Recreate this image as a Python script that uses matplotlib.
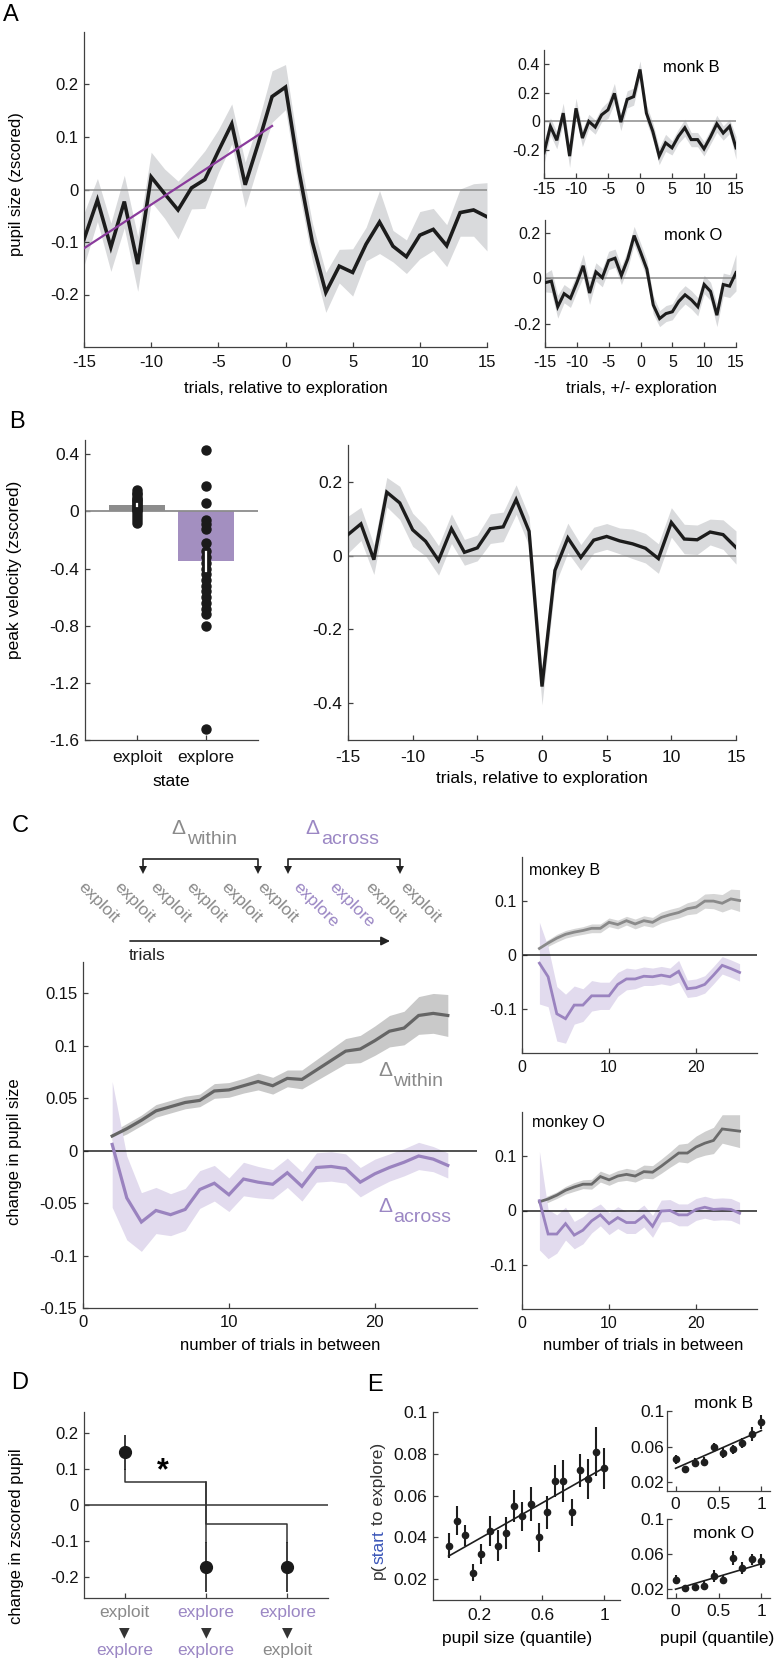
import numpy as np
import matplotlib
matplotlib.use('Agg')
import matplotlib.pyplot as plt
from matplotlib.transforms import blended_transform_factory

W, H, DPI = 778, 1661, 100
plt.rcParams['font.family'] = ['Liberation Sans', 'DejaVu Sans']

# ---------------- data ----------------
trial_offsets = [-15, -14, -13, -12, -11, -10, -9, -8, -7, -6, -5, -4, -3, -2, -1,
                 0, 1, 2, 3, 4, 5, 6, 7, 8, 9, 10, 11, 12, 13, 14, 15]
pupil_mean = [-0.095, -0.02, -0.11, -0.023, -0.142, 0.024, -0.008, -0.039, 0.003, 0.019,
              0.073, 0.125, 0.009, 0.09, 0.177, 0.195, 0.035, -0.10, -0.196, -0.146,
              -0.158, -0.104, -0.062, -0.108, -0.128, -0.087, -0.076, -0.107, -0.044, -0.039, -0.052]
pupil_err = [0.05, 0.041, 0.046, 0.05, 0.052, 0.047, 0.047, 0.055, 0.04, 0.055, 0.041, 0.038,
             0.043, 0.041, 0.049, 0.043, 0.038, 0.036, 0.038, 0.032, 0.045, 0.032, 0.06, 0.03,
             0.032, 0.045, 0.04, 0.04, 0.045, 0.05, 0.065]
fit_x = [-15, -1]
fit_y = [-0.112, 0.121]

monkB_pupil = [-0.223, -0.037, -0.135, 0.056, -0.246, 0.09, -0.119, -0.002, -0.042, 0.044, 0.079,
               0.195, -0.007, 0.153, 0.172, 0.363, 0.056, -0.072, -0.246, -0.153, -0.188, -0.107,
               -0.047, -0.13, -0.13, -0.195, -0.112, -0.019, -0.084, -0.037, -0.188]
monkB_pupil_err = [0.08, 0.06, 0.06, 0.07, 0.08, 0.07, 0.06, 0.05, 0.05, 0.05, 0.06, 0.07, 0.06,
                   0.06, 0.06, 0.06, 0.06, 0.06, 0.06, 0.06, 0.05, 0.05, 0.06, 0.05, 0.05, 0.05,
                   0.05, 0.06, 0.05, 0.05, 0.08]
monkO_pupil = [-0.019, -0.012, -0.124, -0.067, -0.087, -0.019, 0.055, -0.064, 0.028, 0.003, 0.078,
               0.088, 0.013, 0.085, 0.187, 0.115, 0.04, -0.116, -0.176, -0.154, -0.146, -0.101,
               -0.072, -0.094, -0.124, -0.027, -0.057, -0.161, -0.027, -0.034, 0.025]
monkO_pupil_err = [0.04, 0.05, 0.05, 0.04, 0.04, 0.04, 0.05, 0.05, 0.04, 0.04, 0.04, 0.04, 0.04,
                   0.04, 0.04, 0.04, 0.04, 0.04, 0.035, 0.035, 0.035, 0.04, 0.04, 0.04, 0.04, 0.04,
                   0.04, 0.05, 0.05, 0.05, 0.08]

states = ['exploit', 'explore']
bar_means = [0.045, -0.35]
bar_sem = [0.01, 0.065]
exploit_dots = [0.15, 0.13, 0.12, 0.10, 0.09, 0.08, 0.07, 0.06, 0.05, 0.04, 0.03, 0.02,
                0.01, 0.0, -0.02, -0.04, -0.06, -0.08]
explore_dots = [0.43, 0.18, 0.06, -0.06, -0.09, -0.12, -0.22, -0.28, -0.32, -0.36, -0.40,
                -0.44, -0.48, -0.52, -0.56, -0.60, -0.64, -0.68, -0.72, -0.80, -1.52]

velocity_mean = [0.057, 0.086, -0.011, 0.172, 0.143, 0.07, 0.039, -0.013, 0.073, 0.009, 0.021,
                 0.073, 0.078, 0.152, 0.066, -0.355, -0.04, 0.048, -0.005, 0.042, 0.052, 0.04,
                 0.032, 0.02, -0.008, 0.09, 0.045, 0.043, 0.064, 0.057, 0.022]
velocity_err = [0.05, 0.045, 0.04, 0.04, 0.045, 0.045, 0.04, 0.04, 0.04, 0.035, 0.035, 0.04, 0.04,
                0.04, 0.04, 0.05, 0.04, 0.04, 0.035, 0.035, 0.035, 0.035, 0.04, 0.04, 0.04, 0.04,
                0.04, 0.04, 0.035, 0.04, 0.045]

n_between = [2, 3, 4, 5, 6, 7, 8, 9, 10, 11, 12, 13, 14, 15, 16, 17, 18, 19, 20, 21, 22, 23, 24, 25]
within_all = [0.014, 0.021, 0.029, 0.038, 0.042, 0.046, 0.048, 0.057, 0.058, 0.062, 0.066, 0.062,
              0.069, 0.068, 0.077, 0.086, 0.095, 0.097, 0.105, 0.114, 0.117, 0.129, 0.131, 0.129]
within_all_err = [0.004, 0.005, 0.005, 0.006, 0.006, 0.006, 0.006, 0.007, 0.007, 0.007, 0.008, 0.008,
                  0.008, 0.009, 0.01, 0.011, 0.012, 0.013, 0.014, 0.015, 0.016, 0.018, 0.019, 0.02]
across_all = [0.006, -0.045, -0.068, -0.057, -0.061, -0.056, -0.037, -0.031, -0.042, -0.027, -0.030,
              -0.032, -0.021, -0.034, -0.016, -0.015, -0.017, -0.030, -0.022, -0.016, -0.011,
              -0.005, -0.008, -0.014]
across_all_err = [0.06, 0.04, 0.028, 0.022, 0.02, 0.02, 0.018, 0.017, 0.016, 0.016, 0.015, 0.014,
                  0.014, 0.014, 0.014, 0.014, 0.014, 0.014, 0.014, 0.013, 0.013, 0.013, 0.012, 0.012]

monkB_within = [0.012, 0.022, 0.031, 0.038, 0.042, 0.045, 0.049, 0.049, 0.060, 0.056, 0.063, 0.057,
                0.063, 0.060, 0.069, 0.074, 0.078, 0.085, 0.088, 0.099, 0.099, 0.095, 0.103, 0.100]
monkB_within_err = [0.006, 0.006, 0.007, 0.007, 0.007, 0.007, 0.008, 0.008, 0.008, 0.008, 0.008, 0.009,
                    0.009, 0.009, 0.01, 0.01, 0.01, 0.011, 0.012, 0.013, 0.014, 0.016, 0.018, 0.02]
monkB_across = [-0.015, -0.040, -0.108, -0.117, -0.092, -0.092, -0.075, -0.075, -0.075, -0.054, -0.044,
                -0.044, -0.039, -0.040, -0.037, -0.040, -0.030, -0.062, -0.060, -0.054, -0.037,
                -0.019, -0.025, -0.032]
monkB_across_err = [0.075, 0.055, 0.05, 0.045, 0.035, 0.03, 0.028, 0.025, 0.025, 0.022, 0.02, 0.018,
                    0.017, 0.016, 0.016, 0.016, 0.02, 0.016, 0.016, 0.016, 0.016, 0.016, 0.016, 0.016]
monkO_within = [0.016, 0.021, 0.028, 0.037, 0.043, 0.048, 0.048, 0.062, 0.056, 0.063, 0.066, 0.063,
                0.071, 0.070, 0.081, 0.093, 0.105, 0.105, 0.116, 0.123, 0.128, 0.149, 0.147, 0.145]
monkO_within_err = [0.005, 0.006, 0.006, 0.007, 0.008, 0.008, 0.009, 0.01, 0.01, 0.01, 0.011, 0.011,
                    0.012, 0.012, 0.013, 0.014, 0.016, 0.018, 0.02, 0.022, 0.024, 0.026, 0.028, 0.03]
monkO_across = [0.018, -0.043, -0.043, -0.024, -0.045, -0.036, -0.019, -0.008, -0.024, -0.013, -0.022,
                -0.022, -0.010, -0.029, -0.001, 0.0, -0.008, -0.008, 0.002, 0.006, 0.002, 0.003,
                0.002, -0.005]
monkO_across_err = [0.09, 0.045, 0.035, 0.03, 0.025, 0.025, 0.022, 0.02, 0.02, 0.02, 0.02, 0.02,
                    0.02, 0.02, 0.02, 0.02, 0.02, 0.02, 0.02, 0.02, 0.02, 0.02, 0.02, 0.02]

diag_words = ['exploit', 'exploit', 'exploit', 'exploit', 'exploit', 'exploit',
              'explore', 'explore', 'exploit', 'exploit']

trans_from = ['exploit', 'explore', 'explore']
trans_to = ['explore', 'explore', 'exploit']
trans_mean = [0.147, -0.174, -0.174]
trans_err = [0.05, 0.07, 0.07]
sig_levels = [0.065, -0.054]

quantile20 = [0.0, 0.053, 0.105, 0.158, 0.211, 0.263, 0.316, 0.368, 0.421, 0.474, 0.526,
              0.579, 0.632, 0.684, 0.737, 0.789, 0.842, 0.895, 0.947, 1.0]
p_explore = [0.036, 0.048, 0.041, 0.023, 0.032, 0.043, 0.036, 0.042, 0.055, 0.050, 0.056,
             0.040, 0.052, 0.067, 0.067, 0.052, 0.072, 0.068, 0.081, 0.073]
p_explore_err = [0.006, 0.007, 0.005, 0.004, 0.005, 0.007, 0.0075, 0.0075, 0.0075, 0.007, 0.008,
                 0.007, 0.008, 0.0076, 0.01, 0.0064, 0.008, 0.0095, 0.0116, 0.01]
p_fit_x = [0.0, 1.0]
p_fit_y = [0.031, 0.0734]

quantile10 = [0.0, 0.111, 0.222, 0.333, 0.444, 0.556, 0.667, 0.778, 0.889, 1.0]
pB_explore = [0.0455, 0.0345, 0.042, 0.043, 0.059, 0.053, 0.057, 0.064, 0.074, 0.088]
pB_err = [0.005, 0.004, 0.005, 0.005, 0.005, 0.006, 0.005, 0.006, 0.008, 0.008]
pB_fit_y = [0.0355, 0.078]
pO_explore = [0.0307, 0.021, 0.0227, 0.024, 0.035, 0.031, 0.0556, 0.044, 0.054, 0.052]
pO_err = [0.005, 0.004, 0.004, 0.005, 0.007, 0.005, 0.008, 0.007, 0.006, 0.008]
pO_fit_y = [0.020, 0.049]

# ---------------- style ----------------
SPINE = '#404040'
BAND = '#d9dadc'
LINE = '#1c1c1c'
ZERO = '#8c8c8c'
GRAYTXT = '#8a8a8a'
PURPTXT = '#9b87c4'
PURP_LINE = '#9a83bf'
PURP_BAND = '#e2dbee'

fig = plt.figure(figsize=(W / DPI, H / DPI), dpi=DPI)


def add_ax(l, t, r, b):
    return fig.add_axes([l / W, 1 - b / H, (r - l) / W, (b - t) / H])


def style(ax, fs=12, pad=4):
    for s in ['top', 'right']:
        ax.spines[s].set_visible(False)
    for s in ['left', 'bottom']:
        ax.spines[s].set_color(SPINE)
        ax.spines[s].set_linewidth(0.9)
    ax.tick_params(direction='in', length=3.5, width=0.9, color=SPINE,
                   labelsize=fs, pad=pad, labelcolor='#111111')
    ax.patch.set_alpha(0)


def fmt(v):
    return '%g' % v


ov = fig.add_axes([0, 0, 1, 1], zorder=20)
ov.set_xlim(0, W)
ov.set_ylim(H, 0)
ov.axis('off')
ov.patch.set_alpha(0)


def T(x, y, s, **kw):
    kw.setdefault('ha', 'center')
    kw.setdefault('va', 'center')
    kw.setdefault('fontsize', 12)
    return ov.text(x, y, s, **kw)


def band_line(ax, x, m, e, lc, bc, lw):
    m = np.asarray(m)
    e = np.asarray(e)
    ax.fill_between(x, m - e, m + e, color=bc, lw=0, zorder=1)
    ax.plot(x, m, color=lc, lw=lw, zorder=3, solid_joinstyle='miter')


# ---------------- Panel A ----------------
axA = add_ax(84, 32, 487, 347)
style(axA, 12)
axA.axhline(0, color=ZERO, lw=1.1, zorder=2)
band_line(axA, trial_offsets, pupil_mean, pupil_err, LINE, BAND, 2.6)
axA.plot(fit_x, fit_y, color='#8a3b9c', lw=1.6, zorder=4)
axA.set_xlim(-15, 15)
axA.set_ylim(-0.3, 0.3)
axA.set_xticks([-15, -10, -5, 0, 5, 10, 15])
axA.set_xticklabels([fmt(v) for v in [-15, -10, -5, 0, 5, 10, 15]])
axA.set_yticks([-0.2, -0.1, 0, 0.1, 0.2])
axA.set_yticklabels([fmt(v) for v in [-0.2, -0.1, 0, 0.1, 0.2]])
axA.tick_params(axis='x', pad=6)

axAB = add_ax(544, 50, 736, 178)
style(axAB, 11.5, 3)
axAB.axhline(0, color=ZERO, lw=1.1, zorder=2)
band_line(axAB, trial_offsets, monkB_pupil, monkB_pupil_err, LINE, BAND, 2.2)
axAB.set_xlim(-15, 15)
axAB.set_ylim(-0.4, 0.5)
axAB.set_xticks([-15, -10, -5, 0, 5, 10, 15])
axAB.set_xticklabels([fmt(v) for v in [-15, -10, -5, 0, 5, 10, 15]])
axAB.set_yticks([-0.2, 0, 0.2, 0.4])
axAB.set_yticklabels([fmt(v) for v in [-0.2, 0, 0.2, 0.4]])

axAO = add_ax(545, 220, 736, 347)
style(axAO, 11.5, 3)
axAO.axhline(0, color=ZERO, lw=1.1, zorder=2)
band_line(axAO, trial_offsets, monkO_pupil, monkO_pupil_err, LINE, BAND, 2.2)
axAO.set_xlim(-15, 15)
axAO.set_ylim(-0.3, 0.255)
axAO.set_xticks([-15, -10, -5, 0, 5, 10, 15])
axAO.set_xticklabels([fmt(v) for v in [-15, -10, -5, 0, 5, 10, 15]])
axAO.set_yticks([-0.2, 0, 0.2])
axAO.set_yticklabels([fmt(v) for v in [-0.2, 0, 0.2]])
axAO.tick_params(axis='x', pad=6)

T(11, 15, 'A', fontsize=17)
T(17, 184, 'pupil size (zscored)', rotation=90)
T(286, 388, 'trials, relative to exploration')
T(642, 388, 'trials, +/- exploration')
T(691, 68, 'monk B')
T(693, 235, 'monk O')

# ---------------- Panel B ----------------
axBb = add_ax(85, 440, 258, 740)
style(axBb, 12.5)
xb = [1, 2]
axBb.bar(xb, bar_means, width=0.8, color=['#8c8c8c', '#a38fc0'], zorder=1)
axBb.axhline(0, color=ZERO, lw=1.3, zorder=2)
axBb.plot([1] * len(exploit_dots), exploit_dots, 'o', color='#1a1a1a', ms=6.5, zorder=3)
axBb.plot([2] * len(explore_dots), explore_dots, 'o', color='#1a1a1a', ms=6.5, zorder=3)
for xi, m, s in zip(xb, bar_means, bar_sem):
    axBb.plot([xi, xi], [m - s, m + s], color='white', lw=1.6, zorder=4)
axBb.set_xlim(0.25, 2.75)
axBb.set_ylim(-1.6, 0.5)
axBb.set_xticks(xb)
axBb.set_xticklabels(states)
axBb.set_yticks([-1.6, -1.2, -0.8, -0.4, 0, 0.4])
axBb.set_yticklabels([fmt(v) for v in [-1.6, -1.2, -0.8, -0.4, 0, 0.4]])
axBb.tick_params(axis='x', pad=7)

axBr = add_ax(348, 445, 736, 740)
style(axBr, 12.5)
axBr.axhline(0, color=ZERO, lw=1.1, zorder=2)
band_line(axBr, trial_offsets, velocity_mean, velocity_err, LINE, BAND, 2.4)
axBr.set_xlim(-15, 15)
axBr.set_ylim(-0.5, 0.3)
axBr.set_xticks([-15, -10, -5, 0, 5, 10, 15])
axBr.set_xticklabels([fmt(v) for v in [-15, -10, -5, 0, 5, 10, 15]])
axBr.set_yticks([-0.4, -0.2, 0, 0.2])
axBr.set_yticklabels([fmt(v) for v in [-0.4, -0.2, 0, 0.2]])
axBr.tick_params(axis='x', pad=7)

T(17, 422, 'B', fontsize=17)
T(15, 570, 'peak velocity (zscored)', rotation=90, fontsize=12.5)
T(171, 781, 'state', fontsize=12.5)
T(542, 779, 'trials, relative to exploration', fontsize=12.5)

# ---------------- Panel C diagram ----------------
T(20, 826, 'C', fontsize=17)
for i, w in enumerate(diag_words):
    col = PURPTXT if w == 'explore' else GRAYTXT
    ov.text(86 + 35.8 * i, 879, w, rotation=-45, rotation_mode='anchor',
            ha='left', va='top', fontsize=12.5, color=col)

T(178, 828, '\u0394', color=GRAYTXT, fontsize=15)
T(187, 839, 'within', color=GRAYTXT, fontsize=14, ha='left')
T(312, 828, '\u0394', color=PURPTXT, fontsize=15)
T(321, 839, 'across', color=PURPTXT, fontsize=14, ha='left')

for (xl, xr) in [(143, 258), (288, 400)]:
    ov.plot([xl, xl, xr, xr], [868, 859, 859, 868], color='#222222', lw=1.2)
    ov.plot([xl, xr], [870, 870], 'v', color='#222222', ms=6, mew=0)
ov.annotate('', xy=(390, 941), xytext=(130, 941),
            arrowprops=dict(arrowstyle='-|>', color='#222222', lw=1.2, mutation_scale=13,
                            shrinkA=0, shrinkB=0))
T(129, 956, 'trials', ha='left', fontsize=12.5, color='#222222')

# ---------------- Panel C main ----------------
WITHIN_LINE = '#656565'
WITHIN_BAND = '#c9c9c9'
axC = add_ax(83, 962, 477, 1308)
style(axC, 12)
axC.axhline(0, color='#222222', lw=1.1, zorder=2)
band_line(axC, n_between, within_all, within_all_err, WITHIN_LINE, WITHIN_BAND, 2.3)
band_line(axC, n_between, across_all, across_all_err, PURP_LINE, PURP_BAND, 2.3)
axC.set_xlim(0, 27)
axC.set_ylim(-0.15, 0.18)
axC.set_xticks([0, 10, 20])
axC.set_xticklabels(['0', '10', '20'])
cy = [-0.15, -0.1, -0.05, 0, 0.05, 0.1, 0.15]
axC.set_yticks(cy)
axC.set_yticklabels([fmt(v) for v in cy])
axC.tick_params(axis='x', pad=5)

T(385, 1070, '\u0394', color=GRAYTXT, fontsize=15)
T(393, 1081, 'within', color=GRAYTXT, fontsize=14, ha='left')
T(385, 1207, '\u0394', color=PURPTXT, fontsize=15)
T(393, 1218, 'across', color=PURPTXT, fontsize=14, ha='left')
T(15, 1152, 'change in pupil size', rotation=90)
T(280, 1346, 'number of trials in between')

axCB = add_ax(522, 857, 757, 1053)
style(axCB, 11.5)
axCB.axhline(0, color='#222222', lw=1.1, zorder=2)
band_line(axCB, n_between, monkB_within, monkB_within_err, '#8a8a8a', '#d6d6d6', 2.0)
band_line(axCB, n_between, monkB_across, monkB_across_err, PURP_LINE, PURP_BAND, 2.0)
axCB.set_xlim(0, 27)
axCB.set_ylim(-0.18, 0.18)
axCB.set_xticks([0, 10, 20])
axCB.set_xticklabels(['0', '10', '20'])
axCB.set_yticks([-0.1, 0, 0.1])
axCB.set_yticklabels(['-0.1', '0', '0.1'])
axCB.tick_params(axis='x', pad=5)

axCO = add_ax(522, 1112, 757, 1309)
style(axCO, 11.5)
axCO.axhline(0, color='#222222', lw=1.1, zorder=2)
band_line(axCO, n_between, monkO_within, monkO_within_err, '#6a6a6a', '#cfcfcf', 2.0)
band_line(axCO, n_between, monkO_across, monkO_across_err, PURP_LINE, PURP_BAND, 2.0)
axCO.set_xlim(0, 27)
axCO.set_ylim(-0.18, 0.18)
axCO.set_xticks([0, 10, 20])
axCO.set_xticklabels(['0', '10', '20'])
axCO.set_yticks([-0.1, 0, 0.1])
axCO.set_yticklabels(['-0.1', '0', '0.1'])
axCO.tick_params(axis='x', pad=5)

T(529, 870, 'monkey B', ha='left', fontsize=11.5)
T(532, 1123, 'monkey O', ha='left', fontsize=11.5)
T(643, 1346, 'number of trials in between')

# ---------------- Panel D ----------------
axD = add_ax(84, 1412, 328, 1598)
style(axD, 12)
xd = [1, 2, 3]
axD.axhline(0, color='#333333', lw=1.1, zorder=1)
axD.errorbar(xd, trans_mean, yerr=trans_err, fmt='o', color='#1a1a1a', ms=8.5,
             elinewidth=1.2, capsize=0, zorder=3)
axD.plot([xd[0], xd[0], xd[1], xd[1]],
         [trans_mean[0] - trans_err[0], sig_levels[0], sig_levels[0], trans_mean[1] + trans_err[1]],
         color='#333333', lw=1.1, zorder=2)
axD.plot([xd[1], xd[1], xd[2], xd[2]],
         [sig_levels[0], sig_levels[1], sig_levels[1], trans_mean[2] + trans_err[2]],
         color='#333333', lw=1.1, zorder=2)
axD.text(1.47, 0.093, '*', fontsize=22, fontweight='bold', ha='center', va='center')
axD.set_xlim(0.5, 3.5)
axD.set_ylim(-0.26, 0.26)
axD.set_xticks(xd)
axD.set_xticklabels(['', '', ''])
axD.set_yticks([-0.2, -0.1, 0, 0.1, 0.2])
axD.set_yticklabels([fmt(v) for v in [-0.2, -0.1, 0, 0.1, 0.2]])

tD = blended_transform_factory(axD.transData, ov.transData)
for xi, a, b in zip(xd, trans_from, trans_to):
    ca = PURPTXT if a == 'explore' else GRAYTXT
    cb = PURPTXT if b == 'explore' else GRAYTXT
    ov.text(xi, 1613, a, color=ca, fontsize=12.5, ha='center', va='center', transform=tD)
    ov.text(xi, 1632, '\u25BC', color='#333333', fontsize=10, ha='center', va='center',
            transform=tD, family='DejaVu Sans')
    ov.text(xi, 1650, b, color=cb, fontsize=12.5, ha='center', va='center', transform=tD)

T(20, 1383, 'D', fontsize=17)
T(17, 1536, 'change in zscored pupil', rotation=90)

# ---------------- Panel E ----------------
axE = add_ax(433, 1412, 620, 1600)
style(axE, 12.5)
axE.errorbar(quantile20, p_explore, yerr=p_explore_err, fmt='o', color='#1e1e1e', ms=4.5,
             elinewidth=1.5, capsize=0, zorder=3)
axE.plot(p_fit_x, p_fit_y, color='#1e1e1e', lw=1.2, zorder=2)
axE.set_xlim(-0.1, 1.1)
axE.set_ylim(0.01, 0.1)
axE.set_xticks([0.2, 0.6, 1.0])
axE.set_xticklabels(['0.2', '0.6', '1'])
axE.set_yticks([0.02, 0.04, 0.06, 0.08, 0.1])
axE.set_yticklabels(['0.02', '0.04', '0.06', '0.08', '0.1'])
axE.tick_params(axis='x', pad=6)

for (top, bot, vals, errs, fy, name, ny) in [
        (1411, 1491, pB_explore, pB_err, pB_fit_y, 'monk B', 1403),
        (1519, 1598, pO_explore, pO_err, pO_fit_y, 'monk O', 1533)]:
    axi = add_ax(667, top, 770, bot)
    style(axi, 12.5, 2)
    axi.errorbar(quantile10, vals, yerr=errs, fmt='o', color='#1e1e1e', ms=4.5,
                 elinewidth=1.5, capsize=0, zorder=3)
    axi.plot(p_fit_x, fy, color='#1e1e1e', lw=1.2, zorder=2)
    axi.set_xlim(-0.1, 1.1)
    axi.set_ylim(0.01, 0.1)
    axi.set_xticks([0, 0.5, 1])
    axi.set_xticklabels(['0', '0.5', '1'])
    axi.set_yticks([0.02, 0.06, 0.1])
    axi.set_yticklabels(['0.02', '0.06', '0.1'])
    axi.tick_params(axis='x', pad=4)
    T(724, ny, name, fontsize=12.5)

T(375, 1385, 'E', fontsize=17)
T(517, 1638, 'pupil size (quantile)', fontsize=12.5)
T(717, 1638, 'pupil (quantile)', fontsize=12.5)

# multi-coloured vertical ylabel
renderer = fig.canvas.get_renderer()
y0 = 1579
for s, c, gap in [('p(', '#333333', 0), ('start', '#3b56b8', 0), ('to explore)', '#333333', 4.5)]:
    y0 -= gap
    t = ov.text(383, y0, s, rotation=90, rotation_mode='anchor', ha='left', va='baseline',
                fontsize=12.5, color=c)
    bb = t.get_window_extent(renderer=renderer)
    y0 -= bb.height

fig.savefig('out.png', dpi=DPI)
